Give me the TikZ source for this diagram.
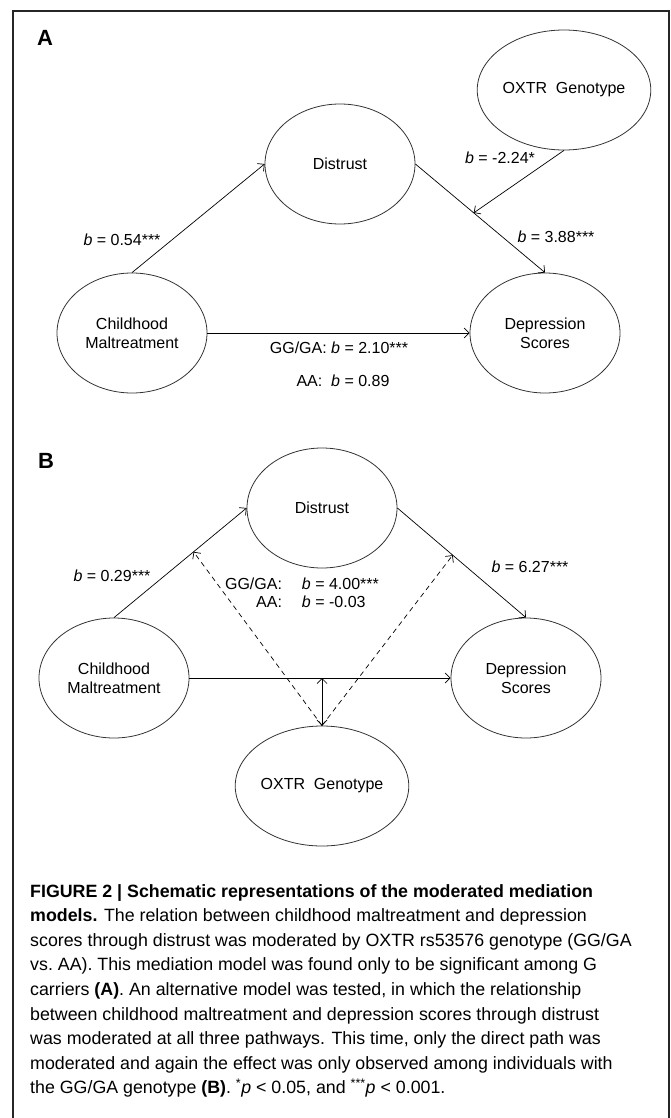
\documentclass[tikz,border=0pt]{standalone}
\usepackage{fontspec}
\setmainfont{Liberation Sans}
\newfontfamily\capfont{Liberation Sans}
\usetikzlibrary{shapes.geometric,arrows.meta}
\begin{document}
\begin{tikzpicture}[x=1pt,y=-1pt,
	var/.style={ellipse,draw=black!80,line width=0.8pt,minimum width=150pt,minimum height=120pt,inner sep=0pt,align=center,font=\fontsize{16}{19}\selectfont},
	lab/.style={inner sep=0pt,font=\fontsize{16}{19}\selectfont},
	arr/.style={-{Straight Barb[length=5pt,width=10pt]},line width=0.7pt},
	darr/.style={{Straight Barb[length=5pt,width=10pt]}-{Straight Barb[length=5pt,width=10pt]},line width=0.7pt},
	panel/.style={inner sep=0pt,font=\fontsize{22}{22}\selectfont\bfseries}]
	\useasboundingbox (0,0) rectangle (671,1118);
	\draw[line width=2.5pt,color=black!85] (13,1118) -- (13,11) -- (669,11) -- (669,1118);
	% panel A
	\node[panel] (pA) at (45,38) {A};
	\node[var] (oxtrA) at (564,90) {OXTR\ \ Genotype};
	\node[var] (distA) at (340,164) {Distrust};
	\node[var] (cmA) at (132,333) {Childhood\\Maltreatment};
	\node[var] (dsA) at (545,333) {Depression\\Scores};
	\draw[arr] (cmA.north) -- (distA.west);
	\draw[arr] (distA.east) -- coordinate[pos=0.45] (modA) (dsA.north);
	\draw[arr] (oxtrA.south) -- (modA);
	\draw[arr] (cmA.east) -- (dsA.west);
	\node[lab] (aA) at (122,240) {\textit{b} = 0.54***};
	\node[lab] (gA) at (500,158) {\textit{b} = -2.24*};
	\node[lab] (bA) at (556,237) {\textit{b} = 3.88***};
	\node[lab] (cA) at (339,348) {GG/GA:\ \textit{b} = 2.10***};
	\node[lab] (cAA) at (343,381) {AA:\ \ \textit{b} = 0.89};
	% panel B
	\node[panel] (pB) at (46,461) {B};
	\node[var] (distB) at (322,508) {Distrust};
	\node[var] (cmB) at (114,678) {Childhood\\Maltreatment};
	\node[var] (dsB) at (526,678) {Depression\\Scores};
	\node[var] (oxtrB) at (322,786) {OXTR\ \ Genotype};
	\draw[arr] (cmB.north) -- coordinate[pos=0.6] (modB1) (distB.west);
	\draw[arr] (distB.east) -- coordinate[pos=0.43] (modB2) (dsB.north);
	\draw[arr] (cmB.east) -- (dsB.west);
	\draw[darr] (oxtrB.north) -- (oxtrB.north |- cmB.east);
	\draw[arr,dashed,dash pattern=on 5pt off 4pt] (oxtrB.north) -- (modB1);
	\draw[arr,dashed,dash pattern=on 5pt off 4pt] (oxtrB.north) -- (modB2);
	\node[lab] (aB) at (112,576) {\textit{b} = 0.29***};
	\node[lab] (bB) at (530,567) {\textit{b} = 6.27***};
	\node[lab] (cB) at (302,595) {\begin{tabular}{@{}r@{\hspace{20pt}}l@{}}GG/GA: & \textit{b} = 4.00***\\[-1pt] AA: & \textit{b} = -0.03\end{tabular}};
	% caption
	\node[anchor=north west,inner sep=0pt,align=left,font=\capfont\fontsize{17.8}{24.6}\selectfont] (cap) at (30,884) {%
		\textbf{FIGURE 2 | Schematic representations of the moderated mediation}\\
		\textbf{models.} The relation between childhood maltreatment and depression\\
		scores through distrust was moderated by OXTR rs53576 genotype (GG/GA\\
		vs.\ AA). This mediation model was found only to be significant among G\\
		carriers \textbf{(A)}. An alternative model was tested, in which the relationship\\
		between childhood maltreatment and depression scores through distrust\\
		was moderated at all three pathways. This time, only the direct path was\\
		moderated and again the effect was only observed among individuals with\\
		the GG/GA genotype \textbf{(B)}. \textsuperscript{*}\textit{p} < 0.05, and \textsuperscript{***}\textit{p} < 0.001.};
\end{tikzpicture}
\end{document}
